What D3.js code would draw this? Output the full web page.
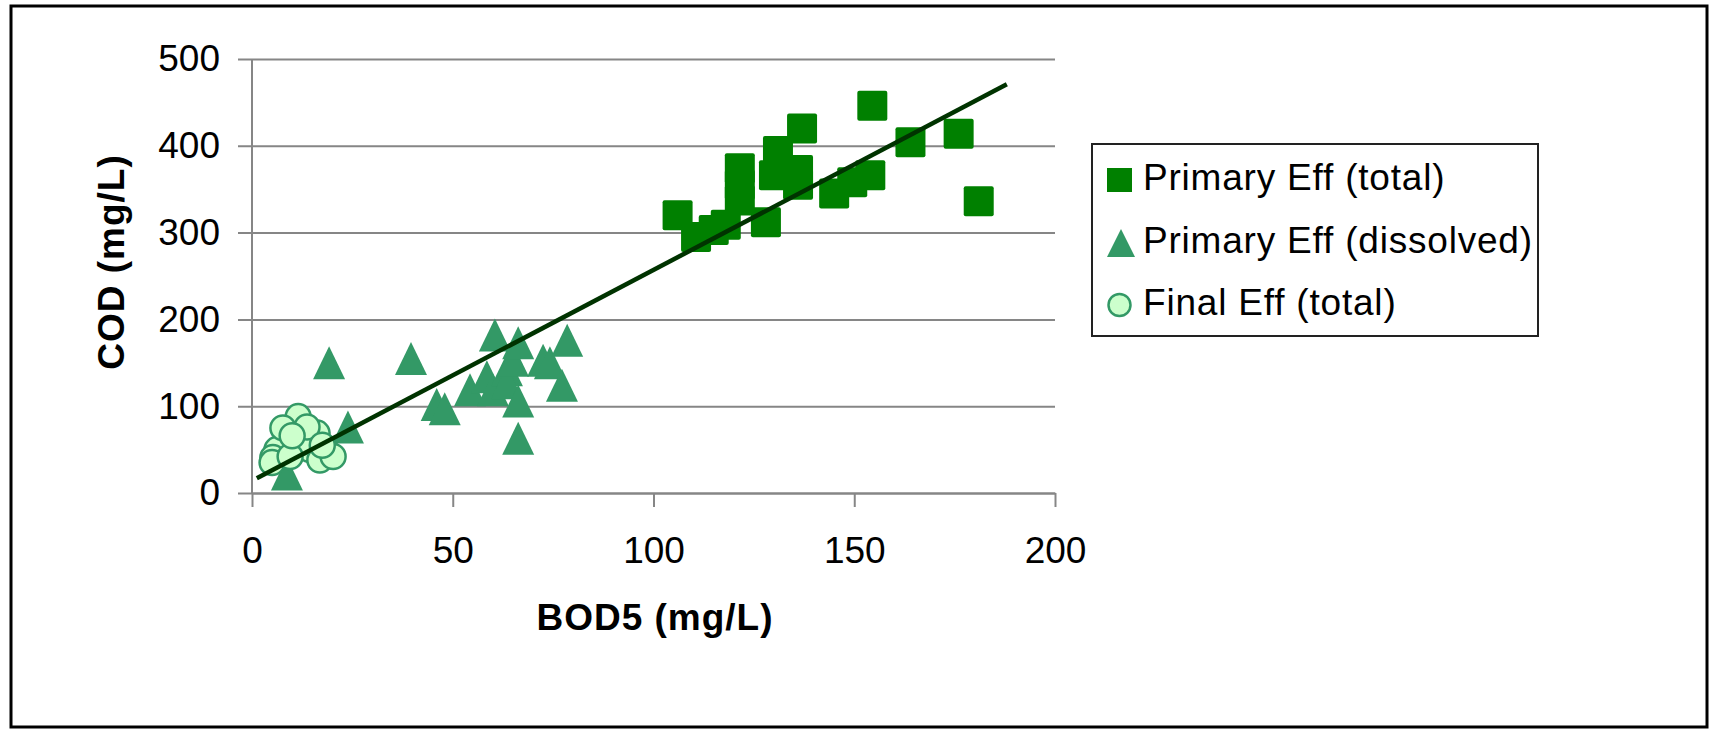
<!DOCTYPE html>
<html>
<head>
<meta charset="utf-8">
<script src="https://cdn.jsdelivr.net/npm/d3@7"></script>
<style>
	body { margin: 0; background: #fff; }
	svg { display: block; font-family: "Liberation Sans", Arial, sans-serif; }
</style>
</head>
<body>
<svg width="1712" height="730"></svg>
<script>
(function(){
	'use strict';

	// BOD5 (x) vs COD (y), mg/L
	const primaryTotal = [
		[106, 320], [110.6, 295], [115, 303], [118, 309], [121.5, 374],
		[121.5, 355], [121.5, 337], [128, 312], [130, 366], [131, 394],
		[136, 372], [136, 355], [137, 420], [145, 345], [149.5, 358],
		[154, 366], [154.5, 446], [164, 404], [176, 414], [181, 336]
	];
	const primaryDissolved = [
		[8.7, 22], [19.2, 150], [23.9, 76], [39.6, 155], [46, 102],
		[48, 97], [54.3, 119], [58.5, 134], [60, 119], [60.5, 182],
		[63.5, 142], [63.5, 127], [65, 153], [66.3, 173], [66.3, 106],
		[66.3, 63], [72.5, 153], [74.2, 150], [77.2, 124], [78.5, 176]
	];
	const finalTotal = [
		[11.5, 88], [8.7, 59], [16.2, 69], [14.4, 50], [6.2, 50],
		[5.2, 41], [18.9, 46], [16.9, 38], [7.7, 75], [5, 35],
		[12, 58], [9.5, 42], [20.2, 42], [13.7, 76], [10, 66], [17.5, 55]
	];
	const trendSlope = 2.43;
	const trendIntercept = 14;
	const trendRange = [1.2, 188];
	const xTicks = [0, 50, 100, 150, 200];
	const yTicks = [0, 100, 200, 300, 400, 500];
	const legendLabels = ['Primary Eff (total)', 'Primary Eff (dissolved)', 'Final Eff (total)'];

	const svg = d3.select('svg');
	const gridColor = '#868686';

	svg.append('rect')
		.attr('x', 11)
		.attr('y', 6)
		.attr('width', 1696)
		.attr('height', 721)
		.attr('fill', '#fff')
		.attr('stroke', '#000')
		.attr('stroke-width', 3);

	const x = d3.scaleLinear().domain([0, 200]).range([252, 1055]);
	const y = d3.scaleLinear().domain([0, 500]).range([493, 59]);

	// gridlines + y labels
	const yAxisG = svg.append('g')
		.attr('transform', 'translate(238,0)')
		.call(d3.axisLeft(y)
			.tickValues(yTicks)
			.tickSize(-(1055 - 238))
			.tickPadding(18));
	yAxisG.select('.domain').remove();
	yAxisG.selectAll('line')
		.attr('stroke', gridColor)
		.attr('stroke-width', 2);
	yAxisG.selectAll('text')
		.attr('font-size', 37)
		.attr('font-family', '"Liberation Sans", Arial, sans-serif')
		.attr('fill', '#000');

	svg.append('line')
		.attr('x1', x(0))
		.attr('x2', x(0))
		.attr('y1', y(500))
		.attr('y2', y(0))
		.attr('stroke', gridColor)
		.attr('stroke-width', 2);

	const xAxisG = svg.append('g')
		.attr('transform', `translate(0,${y(0)})`)
		.call(d3.axisBottom(x)
			.tickValues(xTicks)
			.tickSizeInner(14)
			.tickSizeOuter(0)
			.tickPadding(30));
	xAxisG.select('.domain')
		.attr('stroke', gridColor)
		.attr('stroke-width', 2);
	xAxisG.selectAll('line')
		.attr('stroke', gridColor)
		.attr('stroke-width', 2);
	xAxisG.selectAll('text')
		.attr('font-size', 37)
		.attr('font-family', '"Liberation Sans", Arial, sans-serif')
		.attr('fill', '#000');

	// axis titles
	svg.append('text')
		.attr('x', 655)
		.attr('y', 630)
		.attr('text-anchor', 'middle')
		.attr('font-size', 37)
		.attr('font-weight', 'bold')
		.attr('letter-spacing', 1)
		.text('BOD5 (mg/L)');

	svg.append('text')
		.attr('transform', 'translate(124,262) rotate(-90)')
		.attr('text-anchor', 'middle')
		.attr('font-size', 37)
		.attr('font-weight', 'bold')
		.attr('letter-spacing', 1)
		.text('COD (mg/L)');

	// markers
	const sq = 30;
	const triW = 32;
	const triH = 33;
	const triPath = (cx, cy) =>
		`M${cx},${cy - triH / 2}L${cx + triW / 2},${cy + triH / 2}L${cx - triW / 2},${cy + triH / 2}Z`;

	svg.append('g')
		.selectAll('rect')
		.data(primaryTotal)
		.join('rect')
			.attr('x', d => x(d[0]) - sq / 2)
			.attr('y', d => y(d[1]) - sq / 2)
			.attr('width', sq)
			.attr('height', sq)
			.attr('rx', 2)
			.attr('fill', '#008000');

	svg.append('g')
		.selectAll('path')
		.data(primaryDissolved)
		.join('path')
			.attr('d', d => triPath(x(d[0]), y(d[1])))
			.attr('fill', '#339966');

	svg.append('g')
		.selectAll('circle')
		.data(finalTotal)
		.join('circle')
			.attr('cx', d => x(d[0]))
			.attr('cy', d => y(d[1]))
			.attr('r', 12.5)
			.attr('fill', '#ccffcc')
			.attr('stroke', '#339966')
			.attr('stroke-width', 2.5);

	// trend line
	svg.append('line')
		.attr('x1', x(trendRange[0]))
		.attr('y1', y(trendSlope * trendRange[0] + trendIntercept))
		.attr('x2', x(trendRange[1]))
		.attr('y2', y(trendSlope * trendRange[1] + trendIntercept))
		.attr('stroke', '#003300')
		.attr('stroke-width', 4.5);

	// legend
	const legend = svg.append('g');
	legend.append('rect')
		.attr('x', 1092)
		.attr('y', 144)
		.attr('width', 446)
		.attr('height', 192)
		.attr('fill', '#fff')
		.attr('stroke', '#222')
		.attr('stroke-width', 2);

	const rowY = [180, 243, 305];
	legend.append('rect')
		.attr('x', 1107)
		.attr('y', rowY[0] - 12)
		.attr('width', 25)
		.attr('height', 24)
		.attr('fill', '#008000');
	legend.append('path')
		.attr('d', `M1121,${rowY[1] - 14}L1135,${rowY[1] + 14}L1107,${rowY[1] + 14}Z`)
		.attr('fill', '#339966');
	legend.append('circle')
		.attr('cx', 1119.5)
		.attr('cy', rowY[2])
		.attr('r', 11)
		.attr('fill', '#ccffcc')
		.attr('stroke', '#339966')
		.attr('stroke-width', 2.5);

	legend.selectAll('text')
		.data(legendLabels)
		.join('text')
			.attr('x', 1143)
			.attr('y', (d, i) => rowY[i] + 10)
			.attr('font-size', 37)
			.attr('letter-spacing', 0.8)
			.text(d => d);
})();
</script>
</body>
</html>
